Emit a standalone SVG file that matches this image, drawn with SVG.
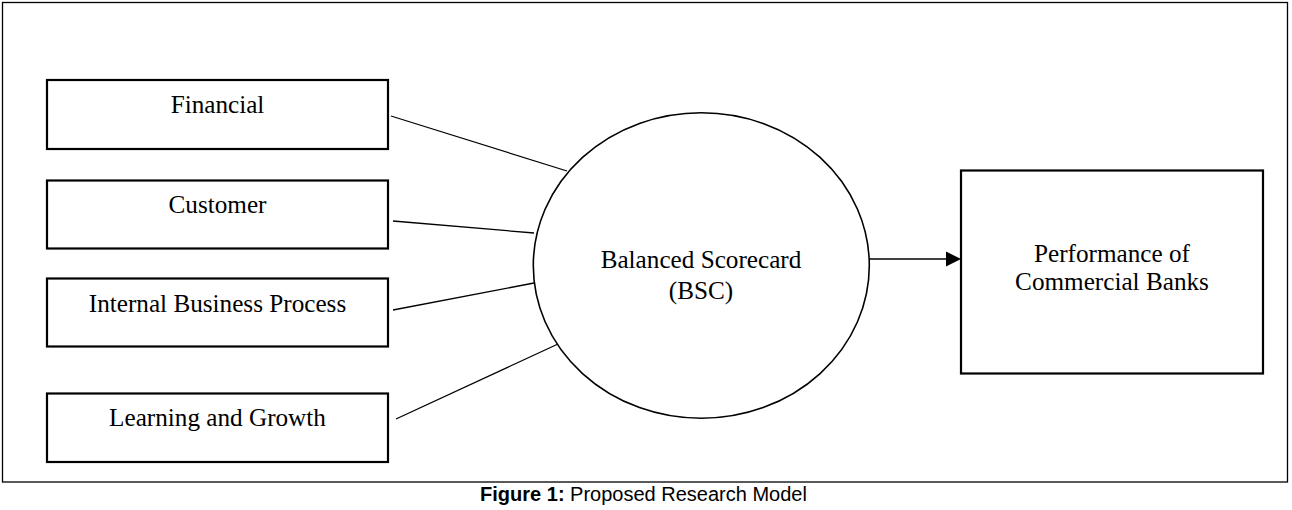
<svg xmlns="http://www.w3.org/2000/svg" width="1292" height="510" viewBox="0 0 1292 510">
<style>
.box{fill:#fff;stroke:#000;stroke-width:2.2}
.lbl{font-family:"Liberation Serif","Times New Roman",serif;font-size:25.2px;fill:#000;text-anchor:middle}
.con{stroke:#000;stroke-width:1.3;fill:none}
.cap{font-family:"Liberation Sans",Arial,sans-serif;font-size:20px;fill:#000;text-anchor:middle}
</style>
<rect x="2.5" y="2.5" width="1285" height="479.5" fill="#fff" stroke="#000" stroke-width="1.3"/>
<g id="connectors">
<line class="con" x1="391" y1="116" x2="567" y2="171"/>
<line class="con" x1="393" y1="221" x2="534" y2="233"/>
<line class="con" x1="393" y1="310" x2="534" y2="283"/>
<line class="con" x1="396" y1="419" x2="558" y2="344"/>
<line class="con" x1="869" y1="259" x2="948" y2="259" stroke-width="1.6"/>
<polygon points="946,251.5 961,259 946,266.5" fill="#000"/>
</g>
<g id="financial"><rect class="box" x="47" y="80" width="341" height="69"/><text class="lbl" x="217.5" y="113">Financial</text></g>
<g id="customer"><rect class="box" x="47" y="180.5" width="341" height="68"/><text class="lbl" x="217.5" y="212.7">Customer</text></g>
<g id="internal"><rect class="box" x="47" y="278.5" width="341" height="68"/><text class="lbl" x="217.5" y="311.7">Internal Business Process</text></g>
<g id="learning"><rect class="box" x="47" y="393.5" width="341" height="68.5"/><text class="lbl" x="217.5" y="426">Learning and Growth</text></g>
<g id="bsc"><ellipse cx="701.3" cy="265.5" rx="168" ry="152.8" fill="#fff" stroke="#000" stroke-width="1.6"/><text class="lbl" x="701" y="268.3">Balanced Scorecard</text><text class="lbl" x="701" y="299">(BSC)</text></g>
<g id="performance"><rect class="box" x="961" y="170.5" width="302" height="203"/><text class="lbl" x="1112" y="261.7">Performance of</text><text class="lbl" x="1112" y="289.5">Commercial Banks</text></g>
<text class="cap" x="643.5" y="500.5"><tspan font-weight="bold">Figure 1:</tspan> Proposed Research Model</text>
</svg>
